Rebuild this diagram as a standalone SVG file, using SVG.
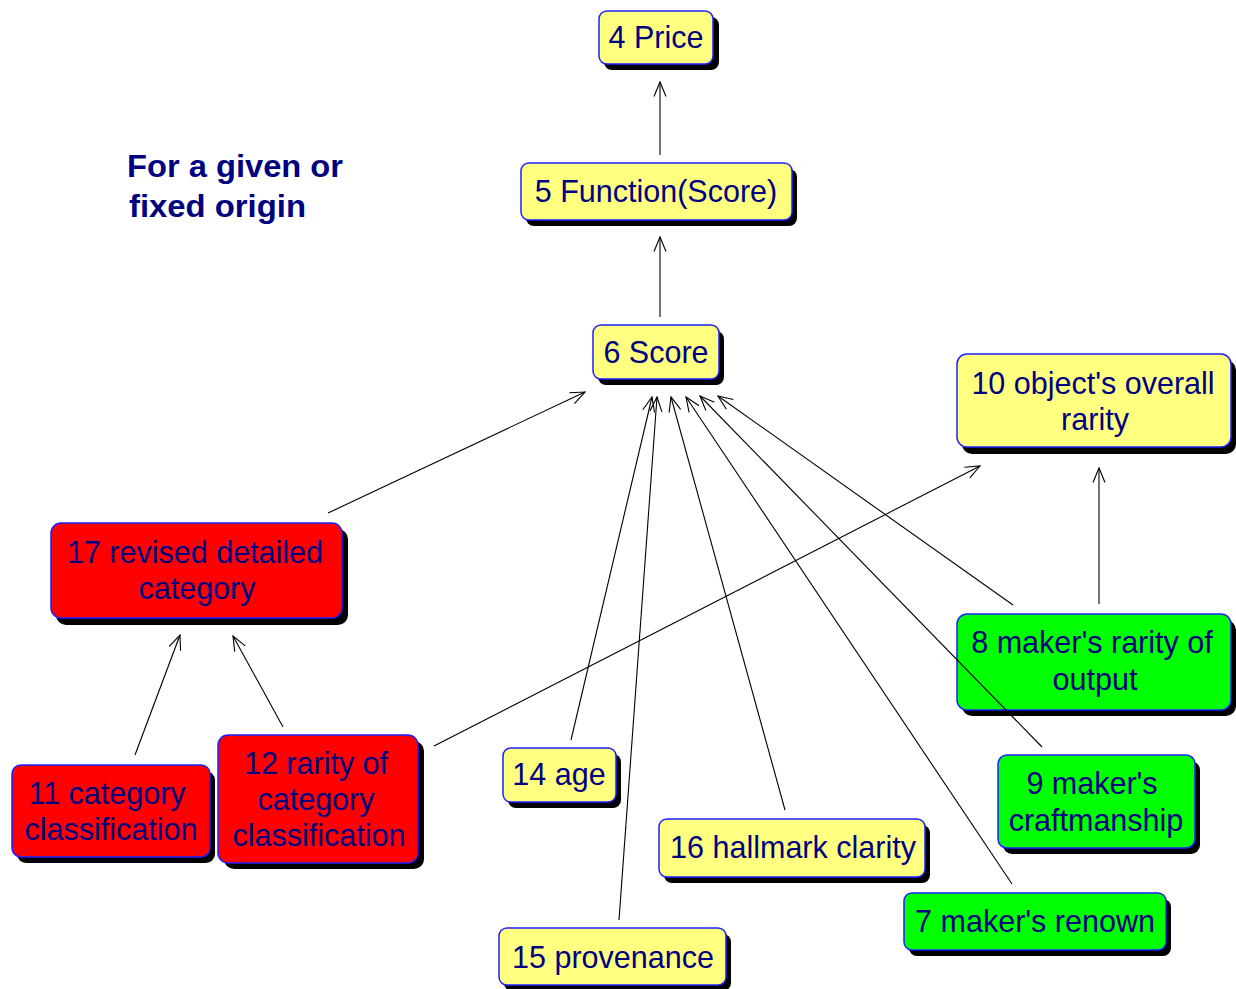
<svg xmlns="http://www.w3.org/2000/svg" width="1236" height="989" viewBox="0 0 1236 989">
  <defs>
    <marker id="arrow" markerUnits="userSpaceOnUse" markerWidth="18" markerHeight="16" viewBox="0 0 18 16" refX="16" refY="8" orient="auto">
      <path d="M1.5,2 L16,8 L1.5,14" fill="none" stroke="#000" stroke-width="1.1"/>
    </marker>
    <style>
      .shadow { fill: #000; }
      .box { stroke: #1f1fff; stroke-width: 1.5; }
      .yellow { fill: #ffff80; }
      .red { fill: #ff0000; }
      .green { fill: #00ff00; }
      .label { font-family: "Liberation Sans", Arial, sans-serif; font-size: 30.5px; fill: #000080; text-anchor: middle; }
      .title { font-family: "Liberation Sans", Arial, sans-serif; font-size: 31px; font-weight: bold; fill: #000080; }
      .edge { stroke: #000; stroke-width: 1.1; fill: none; marker-end: url(#arrow); }
    </style>
  </defs>

  <rect width="1236" height="989" fill="#fff"/>

  <!-- caption -->
  <g id="caption">
    <text class="title" x="127" y="177" textLength="216" lengthAdjust="spacingAndGlyphs">For a given or</text>
    <text class="title" x="129" y="217" textLength="177" lengthAdjust="spacingAndGlyphs">fixed origin</text>
  </g>

  <!-- nodes -->
  <g id="n4">
    <rect class="shadow" x="604" y="17" width="115" height="53" rx="8"/>
    <rect class="box yellow" x="599" y="11" width="114" height="53" rx="8"/>
    <text class="label" x="656" y="48">4 Price</text>
  </g>
  <g id="n5">
    <rect class="shadow" x="526" y="169" width="271" height="57" rx="8"/>
    <rect class="box yellow" x="521" y="163" width="271" height="57" rx="8"/>
    <text class="label" x="656" y="202">5 Function(Score)</text>
  </g>
  <g id="n6">
    <rect class="shadow" x="598" y="331" width="126" height="54" rx="8"/>
    <rect class="box yellow" x="593" y="325" width="126" height="54" rx="8"/>
    <text class="label" x="656" y="363">6 Score</text>
  </g>
  <g id="n10">
    <rect class="shadow" x="962" y="360" width="274" height="94" rx="10"/>
    <rect class="box yellow" x="957" y="354" width="274" height="93" rx="10"/>
    <text class="label" x="1093" y="394">10 object's overall</text>
    <text class="label" x="1095" y="430">rarity</text>
  </g>
  <g id="n17">
    <rect class="shadow" x="56" y="529" width="292" height="96" rx="10"/>
    <rect class="box red" x="51" y="523" width="291" height="95" rx="10"/>
    <text class="label" x="195" y="563">17 revised detailed</text>
    <text class="label" x="197" y="599">category</text>
  </g>
  <g id="n11">
    <rect class="shadow" x="17" y="771" width="198" height="92" rx="9"/>
    <rect class="box red" x="12" y="765" width="198" height="92" rx="9"/>
    <text class="label" x="107" y="804">11 category</text>
    <text class="label" x="111" y="840">classification</text>
  </g>
  <g id="n12">
    <rect class="shadow" x="224" y="741" width="200" height="128" rx="10"/>
    <rect class="box red" x="218" y="735" width="200" height="128" rx="10"/>
    <text class="label" x="316" y="774">12 rarity of</text>
    <text class="label" x="316" y="810">category</text>
    <text class="label" x="319" y="846">classification</text>
  </g>
  <g id="n14">
    <rect class="shadow" x="508" y="754" width="113" height="54" rx="8"/>
    <rect class="box yellow" x="503" y="748" width="113" height="54" rx="8"/>
    <text class="label" x="559" y="785">14 age</text>
  </g>
  <g id="n15">
    <rect class="shadow" x="504" y="934" width="227" height="57" rx="8"/>
    <rect class="box yellow" x="499" y="928" width="227" height="57" rx="8"/>
    <text class="label" x="613" y="968">15 provenance</text>
  </g>
  <g id="n16">
    <rect class="shadow" x="664" y="825" width="266" height="58" rx="8"/>
    <rect class="box yellow" x="659" y="819" width="266" height="58" rx="8"/>
    <text class="label" x="793" y="858">16 hallmark clarity</text>
  </g>
  <g id="n7">
    <rect class="shadow" x="909" y="899" width="262" height="57" rx="8"/>
    <rect class="box green" x="904" y="893" width="262" height="57" rx="8"/>
    <text class="label" x="1035" y="932">7 maker's renown</text>
  </g>
  <g id="n8">
    <rect class="shadow" x="962" y="620" width="274" height="96" rx="10"/>
    <rect class="box green" x="957" y="614" width="274" height="96" rx="10"/>
    <text class="label" x="1092" y="653">8 maker's rarity of</text>
    <text class="label" x="1095" y="690">output</text>
  </g>
  <g id="n9">
    <rect class="shadow" x="1003" y="761" width="197" height="93" rx="9"/>
    <rect class="box green" x="998" y="755" width="197" height="93" rx="9"/>
    <text class="label" x="1092" y="794">9 maker's</text>
    <text class="label" x="1096" y="831">craftmanship</text>
  </g>

  <!-- connectors -->
  <g id="connectors">
    <line class="edge" x1="660" y1="155" x2="660" y2="82"/>
    <line class="edge" x1="660" y1="317" x2="660" y2="237"/>
    <line class="edge" x1="328" y1="513" x2="585" y2="392"/>
    <line class="edge" x1="135" y1="755" x2="180" y2="635"/>
    <line class="edge" x1="283" y1="727" x2="233" y2="636"/>
    <line class="edge" x1="434" y1="746" x2="980" y2="466"/>
    <line class="edge" x1="1099" y1="604" x2="1099" y2="468"/>
    <line class="edge" x1="571" y1="740" x2="652" y2="397"/>
    <line class="edge" x1="619" y1="920" x2="657" y2="397"/>
    <line class="edge" x1="785" y1="810" x2="671" y2="397"/>
    <line class="edge" x1="1012" y1="884" x2="686" y2="397"/>
    <line class="edge" x1="1042" y1="747" x2="700" y2="396"/>
    <line class="edge" x1="1013" y1="605" x2="718" y2="396"/>
  </g>
</svg>
